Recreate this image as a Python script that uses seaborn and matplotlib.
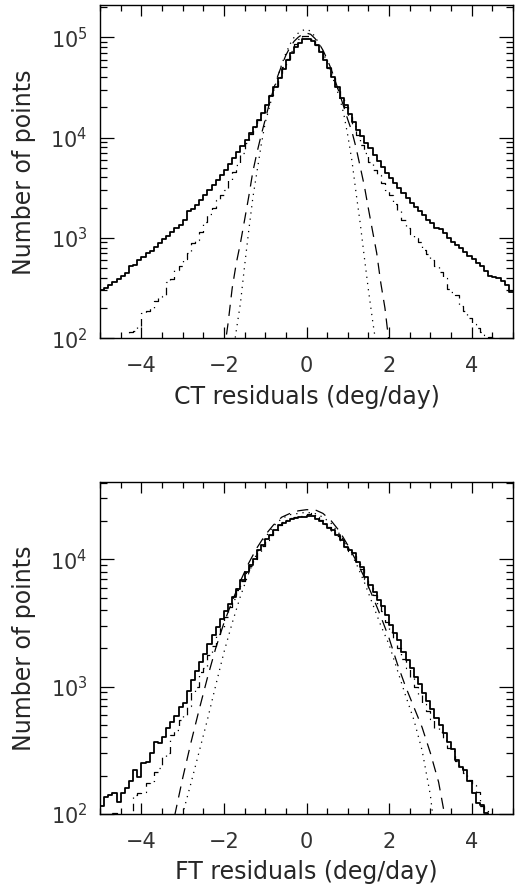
import numpy as np
import pandas as pd
import matplotlib
matplotlib.use("Agg")
import matplotlib.pyplot as plt
import seaborn as sns
from matplotlib.ticker import MultipleLocator, LogLocator, NullFormatter

# Histogram bin edges (0.1 deg/day bins from -5 to 5)
edges = np.round(np.linspace(-5, 5, 101), 2)

# ---- CT residuals (top panel) ----
ct_all = [300, 320, 340, 360, 390, 420, 450, 530, 540, 600,
          640, 700, 740, 820, 880, 980, 1050, 1150, 1250, 1340,
          1500, 1850, 1950, 2150, 2400, 2700, 3000, 3400, 3800, 4200,
          4800, 5500, 6300, 7200, 8300, 9400, 11000, 12800, 15000, 17500,
          21000, 26000, 32000, 39000, 48000, 59000, 70000, 80000, 88000, 95000,
          97000, 92000, 83000, 71000, 60000, 49000, 40000, 32000, 25000, 21000,
          17000, 14200, 12000, 10400, 8900, 7800, 6700, 5800, 5100, 4400,
          3950, 3550, 3150, 2800, 2500, 2250, 2050, 1850, 1700, 1520,
          1400, 1250, 1240, 1110, 1000, 920, 850, 790, 720, 660,
          610, 560, 520, 470, 420, 410, 395, 370, 340, 290]
ct_dashdot = [60, 65, 70, 75, 80, 85, 95, 115, 118, 130,
              180, 185, 200, 235, 250, 265, 360, 390, 480, 530,
              620, 700, 890, 950, 1150, 1450, 1750, 2000, 2380, 2700,
              3000, 3760, 4500, 5300, 7000, 8800, 10800, 12800, 15000, 17800,
              21500, 26500, 32500, 40000, 50000, 61000, 73000, 85000, 96000, 104000,
              103000, 95000, 84000, 72000, 60000, 49000, 39500, 31500, 24500, 20000,
              16000, 13000, 10500, 8500, 7000, 5700, 4800, 4200, 3500, 3000,
              2700, 2200, 1850, 1500, 1250, 1100, 1000, 900, 760, 690,
              600, 530, 460, 395, 310, 290, 270, 210, 185, 160,
              140, 125, 115, 108, 102, 100, 90, 80, 75, 70]
ct_fit_x = np.round(np.linspace(-2, 2, 41), 2)
ct_dashed = [71, 141, 316, 562, 891, 1510, 2570, 4570, 7080, 10500,
             15100, 21900, 30200, 40700, 52500, 66100, 79400, 91200, 100000, 107000,
             110000,
             107000, 97700, 87100, 74100, 60300, 47900, 36300, 27500, 20400, 15100,
             11500, 7940, 5130, 3310, 1950, 1170, 708, 355, 200, 89]
ct_dotted = [16, 32, 63, 120, 224, 525, 1175, 2510, 4570, 8320,
             14100, 20000, 28800, 39800, 53700, 69200, 85100, 100000, 110000, 117000,
             120000,
             115000, 102000, 87100, 70800, 56200, 43600, 33100, 25100, 17400, 10500,
             5890, 2820, 1410, 646, 302, 151, 79, 40, 20, 10]

# ---- FT residuals (bottom panel) ----
ft_all = [115, 135, 140, 145, 125, 145, 160, 180, 220, 196,
          250, 257, 300, 369, 363, 404, 476, 530, 587, 695,
          747, 922, 1125, 1330, 1566, 1820, 2155, 2535, 2950, 3390,
          3890, 4490, 5070, 5890, 6840, 7950, 8970, 10100, 11800, 12900,
          14300, 15600, 16900, 18500, 19300, 20000, 20800, 21200, 21400, 21600,
          21700, 21700, 20800, 20000, 18800, 17700, 16900, 15400, 14100, 12500,
          11900, 11100, 9520, 8710, 7260, 6250, 5540, 4770, 4280, 3640,
          3040, 2640, 2320, 1880, 1610, 1390, 1190, 1040, 895, 770,
          662, 563, 499, 429, 369, 321, 265, 235, 221, 180,
          145, 121, 118, 101, 95, 80, 70, 60, 50, 40]
ft_dashdot = [90, 95, 100, 102, 98, 95, 90, 92, 140, 145,
              150, 174, 180, 214, 230, 282, 300, 420, 455, 547,
              600, 700, 910, 1000, 1310, 1400, 1770, 2100, 2600, 2950,
              3500, 4200, 4900, 5700, 6700, 7800, 8900, 10000, 11500, 12800,
              14200, 15600, 17000, 18600, 19700, 20300, 21000, 21600, 22000, 22400,
              22800, 23000, 21500, 20300, 19000, 17800, 16800, 15300, 14000, 12400,
              11700, 10700, 9300, 8400, 7000, 6000, 5200, 4400, 3900, 3200,
              2700, 2350, 2000, 1650, 1400, 1200, 1000, 870, 730, 640,
              560, 470, 440, 380, 330, 310, 260, 230, 210, 185,
              170, 150, 115, 105, 100, 95, 85, 80, 70, 60]
ft_dashed_x = np.round(np.linspace(-3.4, 3.4, 35), 2)
ft_dashed = [50, 95, 191, 363, 661, 1175, 2000, 3160, 4680, 6760,
             9330, 12300, 15500, 18600, 21400, 22900, 24000, 24500, 24500, 22900,
             20000, 16600, 12900, 9770, 7240, 5130, 3550, 2400, 1510, 1000,
             692, 479, 302, 178, 79]
ft_dotted_x = np.round(np.linspace(-3.2, 3.2, 33), 2)
ft_dotted = [40, 100, 174, 309, 550, 1020, 1860, 3160, 5130, 7760,
             11200, 14800, 18200, 20900, 22400, 22900, 23400, 22900, 21400, 19100,
             15800, 12600, 9330, 6610, 4470, 3020, 2140, 1350, 851, 550,
             316, 141, 40]

sns.set_style("white")
plt.rcParams["font.family"] = ["DejaVu Sans"]
plt.rcParams["mathtext.fontset"] = "dejavusans"
plt.rcParams["text.color"] = "#333333"
plt.rcParams["xtick.labelcolor"] = "#333333"
plt.rcParams["ytick.labelcolor"] = "#333333"

fig = plt.figure(figsize=(5.16, 8.9), dpi=100)
ax_top = fig.add_axes([0.194, 0.620, 0.800, 0.374])
ax_bot = fig.add_axes([0.194, 0.0854, 0.800, 0.373])


def step_frame(values):
    # repeat last value so the final bin is drawn to its right edge
    return pd.DataFrame({"x": edges, "n": list(values) + [values[-1]]})


def draw_panel(ax, solid, dashdot, dash_x, dashed, dot_x, dotted, ytop, xlabel):
    sns.lineplot(data=step_frame(solid), x="x", y="n", ax=ax, color="black",
                 lw=1.3, drawstyle="steps-post", estimator=None, sort=False)
    sns.lineplot(data=step_frame(dashdot), x="x", y="n", ax=ax, color="black",
                 lw=0.9, drawstyle="steps-post", estimator=None, sort=False,
                 linestyle=(0, (6, 4, 1, 4)))
    sns.lineplot(x=dash_x, y=dashed, ax=ax, color="black", lw=0.9,
                 estimator=None, sort=False, linestyle=(0, (9, 6)))
    sns.lineplot(x=dot_x, y=dotted, ax=ax, color="black", lw=0.9,
                 estimator=None, sort=False, linestyle=(0, (1, 4)))

    ax.set_yscale("log")
    ax.set_xlim(-5, 5)
    ax.set_ylim(100, ytop)
    ax.xaxis.set_major_locator(MultipleLocator(2))
    ax.xaxis.set_minor_locator(MultipleLocator(0.5))
    ax.yaxis.set_major_locator(LogLocator(base=10))
    ax.yaxis.set_minor_locator(LogLocator(base=10, subs=np.arange(2, 10)))
    ax.yaxis.set_minor_formatter(NullFormatter())

    # seaborn's white style hides ticks, so switch them on for all four sides
    ax.tick_params(which="both", direction="in", top=True, right=True,
                   bottom=True, left=True, color="black", width=0.9,
                   labelsize=15)
    ax.tick_params(axis="x", which="major", length=8, pad=13)
    ax.tick_params(axis="x", which="minor", length=4)
    ax.tick_params(axis="y", which="major", length=10, pad=9)
    ax.tick_params(axis="y", which="minor", length=5)
    for sp in ax.spines.values():
        sp.set_color("black")
        sp.set_linewidth(1.0)

    ax.set_xlabel(xlabel, fontsize=17)
    ax.set_ylabel("Number of points", fontsize=17)
    ax.xaxis.set_label_coords(0.5, -0.14)
    ax.yaxis.set_label_coords(-0.155, 0.5)


draw_panel(ax_top, ct_all, ct_dashdot, ct_fit_x, ct_dashed, ct_fit_x, ct_dotted,
           2.08e5, "CT residuals (deg/day)")
draw_panel(ax_bot, ft_all, ft_dashdot, ft_dashed_x, ft_dashed, ft_dotted_x, ft_dotted,
           4.04e4, "FT residuals (deg/day)")

fig.savefig("out.png", dpi=100, facecolor="white")
